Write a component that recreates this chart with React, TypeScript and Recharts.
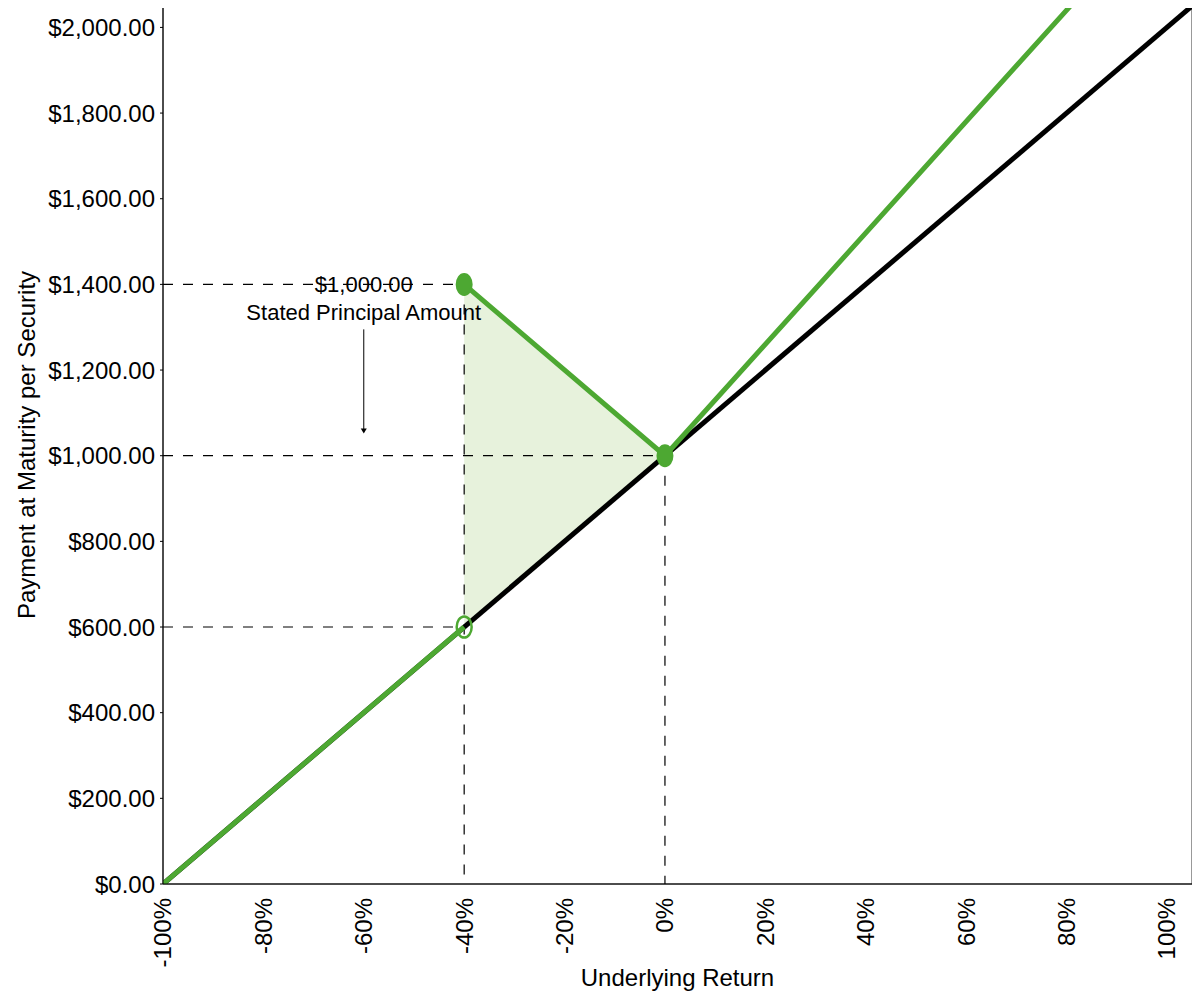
import React from "react";
import {
  ComposedChart,
  Line,
  Area,
  Scatter,
  XAxis,
  YAxis,
  ReferenceLine,
  ReferenceDot,
  ReferenceArea,
} from "recharts";

// Underlying return (%) ticks and payment ticks ($)
const xTicks = [-100, -80, -60, -40, -20, 0, 20, 40, 60, 80, 100];
const yTicks = [0, 200, 400, 600, 800, 1000, 1200, 1400, 1600, 1800, 2000];

// Underlying (black) : payment = 1000 * (1 + return)
const underlying = [
  { x: -100, y: 0 },
  { x: 105, y: 2050 },
];

// Security payoff (green), below the -40% buffer
const securityLow = [
  { x: -100, y: 0 },
  { x: -40, y: 600 },
];
// absolute return zone then 1.3x upside
const securityHigh = [
  { x: -40, y: 1400 },
  { x: 0, y: 1000 },
  { x: 105, y: 2365 },
];

// shaded zone between payoff and underlying
const band = [
  { x: -40, range: [600, 1400] },
  { x: 0, range: [1000, 1000] },
];

const filledDots = [
  { x: -40, y: 1400 },
  { x: 0, y: 1000 },
];
const hollowDots = [{ x: -40, y: 600 }];

const GREEN = "#4da832";
const FONT = "Arial, 'Liberation Sans', sans-serif";

const fmtMoney = (v: number) =>
  "$" + v.toLocaleString("en-US", { minimumFractionDigits: 2, maximumFractionDigits: 2 });

const XTick = (props: any) => {
  const { x, y, payload } = props;
  return (
    <text
      x={x}
      y={y + 6}
      transform={`rotate(-90, ${x}, ${y + 6})`}
      textAnchor="end"
      dy="0.35em"
      fontSize={24}
      fontFamily={FONT}
      fill="#000"
    >
      {payload.value}%
    </text>
  );
};

const Ellipse = (filled: boolean) => (props: any) => {
  const { cx, cy } = props;
  return (
    <ellipse
      cx={cx}
      cy={cy}
      rx={7.5}
      ry={10.5}
      fill={filled ? GREEN : "none"}
      stroke={GREEN}
      strokeWidth={filled ? 2 : 2.5}
    />
  );
};

const Arrow = (props: any) => {
  const { x1, y1, x2, y2 } = props;
  return (
    <g>
      <line x1={x1} y1={y1} x2={x2} y2={y2 - 4} stroke="#000" strokeWidth={1} />
      <polygon points={`${x2 - 3},${y2 - 5} ${x2 + 3},${y2 - 5} ${x2},${y2}`} fill="#000" />
    </g>
  );
};

const Note = (props: any) => {
  const { cx, cy } = props;
  return (
    <g fontFamily={FONT} fontSize={22} fill="#000">
      <text x={cx} y={cy} textAnchor="middle" dy="0.35em">
        $1,000.00
      </text>
      <text x={cx} y={cy + 28} textAnchor="middle" dy="0.35em">
        Stated Principal Amount
      </text>
    </g>
  );
};

const dash = "10 10";

export default function App() {
  return (
    <div style={{ margin: -8, background: "#fff", width: 1200, height: 1000 }}>
      <ComposedChart
        width={1200}
        height={1000}
        margin={{ top: 6, right: 8, bottom: 0, left: 0 }}
      >
        <XAxis
          dataKey="x"
          type="number"
          domain={[-100, 105]}
          ticks={xTicks}
          tick={<XTick />}
          tickLine={false}
          axisLine={{ stroke: "#000" }}
          height={116}
          allowDataOverflow
          label={{
            value: "Underlying Return",
            position: "insideBottom",
            offset: 14,
            fontSize: 24,
            fontFamily: FONT,
            fill: "#000",
          }}
        />
        <YAxis
          type="number"
          domain={[0, 2050]}
          ticks={yTicks}
          tickFormatter={fmtMoney}
          tick={{ fontSize: 24, fontFamily: FONT, fill: "#000" }}
          tickSize={3}
          tickMargin={5}
          tickLine={{ stroke: "#000" }}
          axisLine={{ stroke: "#000" }}
          width={163}
          allowDataOverflow
          label={{
            value: "Payment at Maturity per Security",
            angle: -90,
            position: "insideLeft",
            offset: 26,
            style: { textAnchor: "middle" },
            fontSize: 24,
            fontFamily: FONT,
            fill: "#000",
          }}
        />
        <ReferenceArea
          x1={-100}
          x2={105}
          y1={0}
          y2={2050}
          fill="none"
          stroke="#333"
          strokeWidth={1}
        />
        <Area
          data={band}
          dataKey="range"
          type="linear"
          fill="#e7f2dc"
          fillOpacity={1}
          stroke="none"
          isAnimationActive={false}
        />
        <ReferenceLine segment={[{ x: -100, y: 1400 }, { x: -40, y: 1400 }]} stroke="#000" strokeWidth={1.2} strokeDasharray={dash} />
        <ReferenceLine segment={[{ x: -100, y: 1000 }, { x: 0, y: 1000 }]} stroke="#000" strokeWidth={1.2} strokeDasharray={dash} />
        <ReferenceLine segment={[{ x: -100, y: 600 }, { x: -40, y: 600 }]} stroke="#000" strokeWidth={1.2} strokeDasharray={dash} />
        <ReferenceLine segment={[{ x: -40, y: 1400 }, { x: -40, y: 0 }]} stroke="#000" strokeWidth={1.2} strokeDasharray={dash} />
        <ReferenceLine segment={[{ x: 0, y: 1000 }, { x: 0, y: 0 }]} stroke="#000" strokeWidth={1.2} strokeDasharray={dash} />
        <ReferenceLine segment={[{ x: -60, y: 1295 }, { x: -60, y: 1052 }]} shape={<Arrow />} />
        <ReferenceDot x={-60} y={1400} r={0} shape={<Note />} />
        <Scatter data={filledDots} dataKey="y" shape={Ellipse(true)} isAnimationActive={false} />
        <Scatter data={hollowDots} dataKey="y" shape={Ellipse(false)} isAnimationActive={false} />
        <Line
          data={underlying}
          dataKey="y"
          type="linear"
          stroke="#000"
          strokeWidth={5}
          dot={false}
          isAnimationActive={false}
        />
        <Line
          data={securityLow}
          dataKey="y"
          type="linear"
          stroke={GREEN}
          strokeWidth={5}
          dot={false}
          isAnimationActive={false}
        />
        <Line
          data={securityHigh}
          dataKey="y"
          type="linear"
          stroke={GREEN}
          strokeWidth={5}
          dot={false}
          isAnimationActive={false}
        />
      </ComposedChart>
    </div>
  );
}
